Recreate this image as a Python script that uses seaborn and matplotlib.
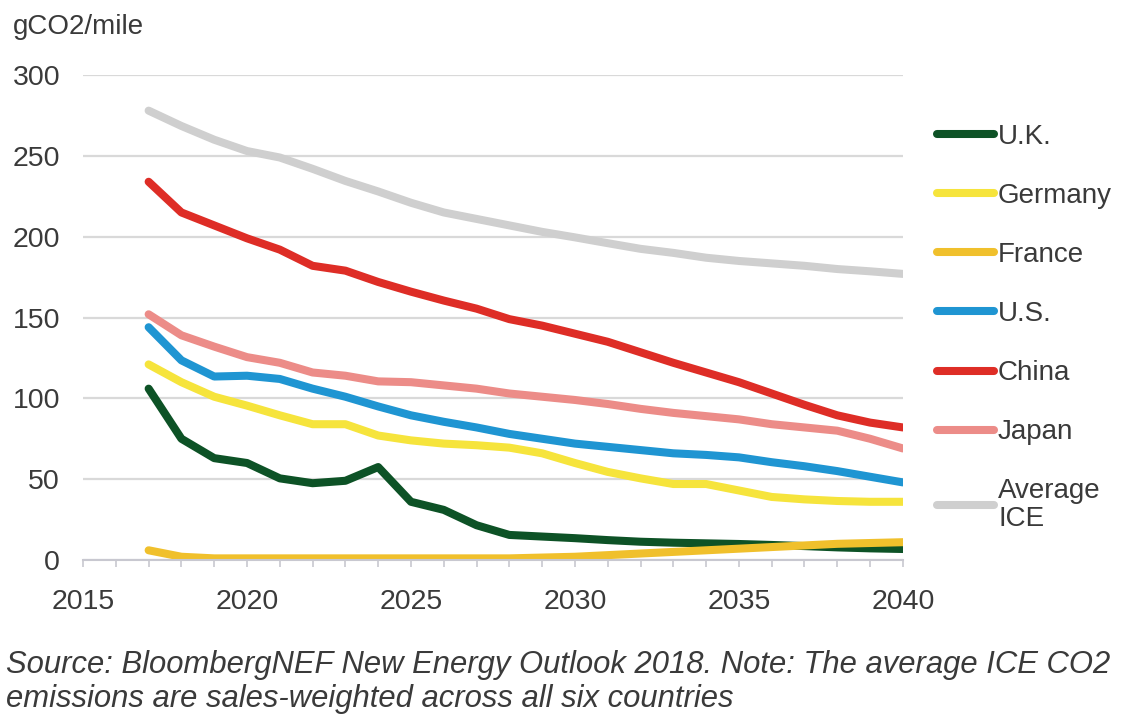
import numpy as np
import pandas as pd
import matplotlib.pyplot as plt
import seaborn as sns

#### Data ####
years = list(range(2017, 2041))

uk = [106, 75, 63, 60, 50.5, 47.5, 49, 57.5, 36, 31, 21.5, 15.5,
      14.5, 13.5, 12.3, 11.3, 10.7, 10.3, 9.9, 9.3, 8.6, 7.8, 7.2, 6.8]
germany = [121, 110, 101, 95.5, 89.5, 84, 84, 77, 74, 72, 71, 69.5,
           66, 60, 54.5, 50.5, 47, 47, 43, 39, 37.5, 36.5, 36, 36]
france = [6, 2, 1, 1, 1, 1, 1, 1, 1, 1, 1, 1,
          1.5, 2, 3, 4, 5, 6, 7, 8, 9, 10, 10.5, 11]
us = [144, 123.5, 113.5, 114, 112, 106, 101, 95, 89.5, 85.5, 82, 78,
      75, 72, 70, 68, 66, 65, 63.5, 60.5, 58, 55, 51.5, 48]
china = [234, 215, 207, 199, 192, 182, 179, 172, 166, 160.5, 155.5, 149,
         145, 140, 135, 128.5, 122, 116, 110, 103, 96, 89.5, 85, 82]
japan = [152, 139, 132, 125.5, 122, 116, 114, 110.5, 110, 108, 106, 103,
         101, 99, 96.5, 93.5, 91, 89, 87, 84, 82, 80, 75, 69]
avg_ice = [278, 268.5, 260, 253, 249, 242, 234.5, 228, 221, 215, 211, 207,
           203, 199.6, 196, 192.5, 190, 187, 185, 183.5, 182, 180, 178.6, 177]

series_names = ["U.K.", "Germany", "France", "U.S.", "China", "Japan", "Average\nICE"]
series_values = [uk, germany, france, us, china, japan, avg_ice]
colors = ["#0d5226", "#f6e43c", "#f0c02c", "#1f95d2", "#de2d26", "#ec8c88", "#cfcfcf"]

rows = []
for name, vals in zip(series_names, series_values):
    for y, v in zip(years, vals):
        rows.append({"year": y, "series": name, "value": v})
df = pd.DataFrame(rows)

#### Plot ####
sns.set_theme(style="white")
plt.rcParams["font.family"] = ["Liberation Sans", "DejaVu Sans"]
text_col = "#3a3a3a"

fig = plt.figure(figsize=(11.3, 7.15), dpi=100)
ax = fig.add_axes([0.0735, 0.2168, 0.7255, 0.6782])

# draw grey average first so the countries sit on top
draw_order = ["Average\nICE", "Japan", "China", "U.S.", "Germany", "U.K.", "France"]
palette = dict(zip(series_names, colors))
sns.lineplot(data=df, x="year", y="value", hue="series", hue_order=draw_order,
             palette=palette, linewidth=5.8, ax=ax, legend=False)

ax.set_xlim(2015, 2040)
ax.set_ylim(0, 300)
ax.set_yticks(range(0, 301, 50))
ax.set_xticks(range(2015, 2041, 5))
ax.set_xticks(range(2015, 2041), minor=True)
ax.yaxis.grid(True, color="#d9d9d9", linewidth=1.6)
ax.set_axisbelow(True)

for s in ["top", "right", "left"]:
    ax.spines[s].set_visible(False)
ax.spines["bottom"].set_color("#c8c8d0")
ax.spines["bottom"].set_linewidth(1.5)

ax.tick_params(axis="y", length=0, pad=16.5, labelsize=20.5, labelcolor=text_col)
ax.tick_params(axis="x", which="both", direction="out", length=5, width=1.2,
               color="#c8c8d0", bottom=True, labelsize=20.5, labelcolor=text_col, pad=16)
ax.tick_params(axis="x", which="minor", labelbottom=False)

ax.set_xlabel("")
ax.set_ylabel("")

fig.text(0.011, 0.962, "gCO2/mile", fontsize=20, color=text_col, va="center", ha="left")

# legend
handles = [plt.Line2D([0], [0], color=c, linewidth=5.8) for c in colors]
leg = ax.legend(handles, series_names, loc="upper left", bbox_to_anchor=(1.028, 0.922),
                frameon=False, fontsize=20, handlelength=2.05, handletextpad=0.15,
                labelspacing=1.19, labelcolor=text_col, borderaxespad=0)
for t in leg.get_texts():
    t.set_linespacing(1.08)

fig.text(0.005, 0.002, "Source: BloombergNEF New Energy Outlook 2018. Note: The average ICE CO2\n"
         "emissions are sales-weighted across all six countries",
         fontsize=22.3, style="italic", color=text_col, ha="left", va="bottom",
         linespacing=1.17)

plt.savefig("out.png", dpi=100)
plt.close(fig)
